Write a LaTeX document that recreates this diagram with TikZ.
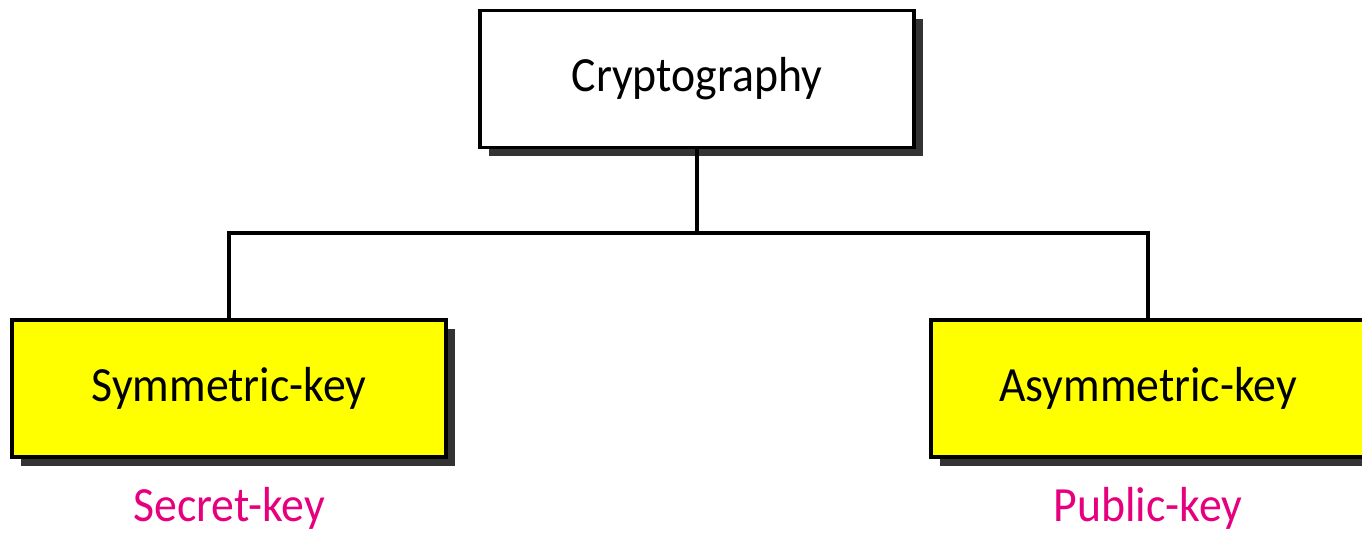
\documentclass[tikz,border=0pt]{standalone}
\usepackage{fontspec}
\setmainfont[FakeStretch=0.93]{Carlito}
\usetikzlibrary{shadows}
\definecolor{keypink}{RGB}{230,0,126}
\definecolor{boxyellow}{RGB}{255,255,0}

\begin{document}
\begin{tikzpicture}[line width=1.8pt,
  every node/.style={minimum width=8.68cm, minimum height=2.74cm, outer sep=0pt,
    font=\fontsize{28}{32}\selectfont},
  box/.style={draw=black, drop shadow={shadow xshift=0.18cm, shadow yshift=-0.18cm, fill=black!80, opacity=1}},
  note/.style={minimum width=0pt, minimum height=0pt, inner sep=0pt, anchor=base, text=keypink}]
\useasboundingbox (0,0) rectangle (27.24,10.66);

\node[box, fill=white] (crypto) at (13.94,9.08) {Cryptography};
\node[box, fill=boxyellow] (symkey) at (4.58,2.89) {Symmetric-key};
\node[box, fill=boxyellow] (asymkey) at (22.96,2.89) {Asymmetric-key};

\node[note] (secret) at (4.58,0.22) {Secret-key};
\node[note] (public) at (22.96,0.22) {Public-key};

\coordinate (split) at (13.94,6.0);
\draw (crypto.south) -- (split);
\draw (symkey.north) |- (split) -| (asymkey.north);
\end{tikzpicture}
\end{document}
